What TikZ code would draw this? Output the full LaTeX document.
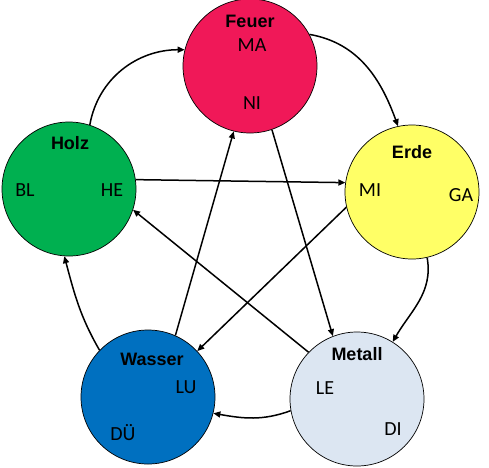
\documentclass[tikz,border=0pt]{standalone}
\usepackage{fontspec}
\setmainfont{Liberation Sans}
\newfontfamily\calfont{Carlito}
\usetikzlibrary{arrows.meta}

\definecolor{feuerrot}{RGB}{240,24,88}
\definecolor{holzgruen}{RGB}{0,176,80}
\definecolor{erdgelb}{RGB}{255,255,102}
\definecolor{wasserblau}{RGB}{0,112,192}
\definecolor{metallgrau}{RGB}{220,230,242}

\begin{document}
\begin{tikzpicture}[x=1pt, y=1pt,
    element/.style={circle, draw, line width=0.7pt, minimum size=134pt, inner sep=0pt},
    titel/.style={font=\fontsize{18}{20}\selectfont\bfseries},
    organ/.style={font=\calfont\fontsize{20}{22}\selectfont},
    arrow/.style={-{Triangle[length=7pt,width=6pt]}, line width=1.5pt}
]
\useasboundingbox (0,0) rectangle (489,-467);

% Elemente
\node[element, fill=feuerrot] (feuer) at (250,-66) {};
\node[element, fill=holzgruen] (holz) at (69,-189) {};
\node[element, fill=erdgelb] (erde) at (412,-192) {};
\node[element, fill=wasserblau] (wasser) at (148,-397) {};
\node[element, fill=metallgrau] (metall) at (357,-399) {};

% Beschriftungen
\node[titel] (feuer-titel) at (250,-21) {Feuer};
\node[organ] (ma) at (252,-45) {MA};
\node[organ] (ni) at (252,-103) {NI};
\node[titel] (holz-titel) at (70,-143) {Holz};
\node[organ] (bl) at (25,-190) {BL};
\node[organ] (he) at (112,-190) {HE};
\node[titel] (erde-titel) at (412,-152) {Erde};
\node[organ] (mi) at (370,-190) {MI};
\node[organ] (ga) at (461,-195) {GA};
\node[titel] (wasser-titel) at (152,-359) {Wasser};
\node[organ] (lu) at (186,-387) {LU};
\node[organ] (due) at (123,-433) {DÜ};
\node[titel] (metall-titel) at (357,-354) {Metall};
\node[organ] (le) at (325,-388) {LE};
\node[organ] (di) at (393,-429) {DI};

% Aussenkreis
\draw[arrow] (holz.72) to[out=80,in=180] (feuer.166);
\draw[arrow] (feuer.28) to[out=-10,in=110] (erde.102);
\draw[arrow] (erde.283) to[out=-80,in=60] (metall.58);
\draw[arrow] (metall.190) to[out=200,in=-10] (wasser.346);
\draw[arrow] (wasser.136) to[out=120,in=-75] (holz.266);

% Stern
\draw[arrow] (holz.8) -- (erde.172);
\draw[arrow] (erde.193) -- (wasser.43);
\draw[arrow] (wasser.66) -- (feuer.256);
\draw[arrow] (feuer.289) -- (metall.111);
\draw[arrow] (metall.136) -- (holz.342);

\end{tikzpicture}
\end{document}
